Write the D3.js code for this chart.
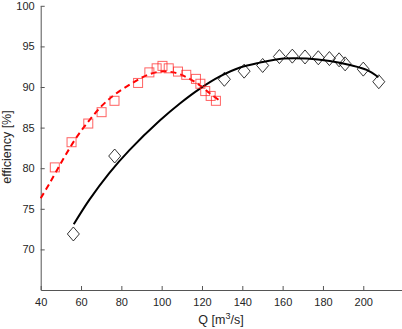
<!DOCTYPE html>
<html>
<head>
<meta charset="utf-8">
<script src="https://cdn.jsdelivr.net/npm/d3@7"></script>
<style>
  body { margin: 0; background: #fff; }
  #canvas { width: 402px; height: 329px; }
  text { font-family: "Liberation Sans", Arial, sans-serif; fill: #262626; }
  .axis path, .axis line { stroke: #555; }
  .axis text { font-size: 11px; fill: #262626; }
</style>
</head>
<body>
<div id="canvas" class="canvas"></div>
<script>
// measured points (red squares)
var sqQ   = [47.0, 55.3, 63.6, 70.2, 76.6, 88.3, 93.9, 97.5, 100.4, 103.5, 108.1, 112.2, 117.0, 119.2, 121.6, 124.3, 126.9];
var sqEff = [80.1, 83.2, 85.5, 86.9, 88.3, 90.5, 91.8, 92.3, 92.6, 92.3, 91.9, 91.5, 91.0, 90.4, 89.5, 88.9, 88.3];

// measured points (black diamonds)
var dmQ   = [56.2, 76.7, 131.1, 140.9, 150.1, 158.4, 164.8, 171.1, 177.7, 183.2, 188.0, 191.0, 200.0, 207.7];
var dmEff = [71.9, 81.5, 90.95, 91.95, 92.65, 93.75, 93.8, 93.7, 93.6, 93.5, 93.35, 92.85, 92.2, 90.65];

// fitted curves
var redFitQ   = [40.0, 44.3, 50.9, 57.5, 64.1, 70.8, 77.4, 85.6, 92.2, 99.2, 105.8, 112.4, 119.0, 124.0, 128.9];
var redFitEff = [76.3, 78.1, 81.0, 83.7, 85.9, 87.8, 89.2, 90.5, 91.4, 91.9, 91.8, 91.2, 90.2, 89.2, 88.3];
var blkFitQ   = [56.4, 64.1, 74.0, 83.9, 99.2, 109.2, 119.0, 128.9, 138.9, 148.8, 160.3, 171.9, 183.4, 193.4, 201.7, 207.5];
var blkFitEff = [73.1, 76.1, 79.4, 82.2, 85.9, 88.0, 89.8, 91.3, 92.4, 93.0, 93.5, 93.5, 93.2, 92.7, 92.1, 91.2];

var xTicks = [40, 60, 80, 100, 120, 140, 160, 180, 200];
var yTicks = [70, 75, 80, 85, 90, 95, 100];

var W = 402, H = 329;
var svg = d3.select('.canvas').append('svg')
  .attr('width', W).attr('height', H);

var x = d3.scaleLinear().domain([40, 220]).range([40.7, 403.6]);
var y = d3.scaleLinear().domain([65, 100]).range([290, 5.8]);

function pts(a, b) { return a.map(function(d, i) { return [d, b[i]]; }); }

// axes
svg.append('g').attr('class', 'axis')
  .attr('transform', 'translate(0,290)')
  .call(d3.axisBottom(x).tickValues(xTicks).tickSizeInner(-4).tickSizeOuter(0).tickPadding(8));
svg.append('g').attr('class', 'axis')
  .attr('transform', 'translate(40.7,0)')
  .call(d3.axisLeft(y).tickValues(yTicks).tickSizeInner(-4).tickSizeOuter(0).tickPadding(6));

var line = d3.line()
  .x(function(d) { return x(d[0]); })
  .y(function(d) { return y(d[1]); })
  .curve(d3.curveCatmullRom);

// red dashed fit
svg.append('path')
  .datum(pts(redFitQ, redFitEff))
  .attr('d', line)
  .attr('fill', 'none')
  .attr('stroke', '#ff0000')
  .attr('stroke-width', 2)
  .attr('stroke-dasharray', '6,4');

// black fit
svg.append('path')
  .datum(pts(blkFitQ, blkFitEff))
  .attr('d', line)
  .attr('fill', 'none')
  .attr('stroke', '#000')
  .attr('stroke-width', 2);

// squares
svg.selectAll('rect.sq')
  .data(pts(sqQ, sqEff))
  .enter().append('rect')
  .attr('class', 'sq')
  .attr('x', function(d) { return x(d[0]) - 4.5; })
  .attr('y', function(d) { return y(d[1]) - 4.5; })
  .attr('width', 9).attr('height', 9)
  .attr('fill', 'none')
  .attr('stroke', '#ff2020')
  .attr('stroke-opacity', 0.7)
  .attr('stroke-width', 1);

// diamonds
svg.selectAll('path.dm')
  .data(pts(dmQ, dmEff))
  .enter().append('path')
  .attr('class', 'dm')
  .attr('d', function(d) {
    var cx = x(d[0]), cy = y(d[1]);
    return 'M' + cx + ',' + (cy - 7) + 'L' + (cx + 6) + ',' + cy +
           'L' + cx + ',' + (cy + 7) + 'L' + (cx - 6) + ',' + cy + 'Z';
  })
  .attr('fill', 'none')
  .attr('stroke', '#000')
  .attr('stroke-width', 0.8);

// labels
svg.append('text')
  .attr('transform', 'translate(11,147) rotate(-90)')
  .attr('text-anchor', 'middle')
  .style('font-size', '12.5px')
  .text('efficiency [%]');

var xl = svg.append('text')
  .attr('x', 221).attr('y', 324)
  .attr('text-anchor', 'middle')
  .style('font-size', '12.5px');
xl.append('tspan').text('Q [m');
xl.append('tspan').attr('dy', -5).style('font-size', '9px').text('3');
xl.append('tspan').attr('dy', 5).text('/s]');
</script>
</body>
</html>
